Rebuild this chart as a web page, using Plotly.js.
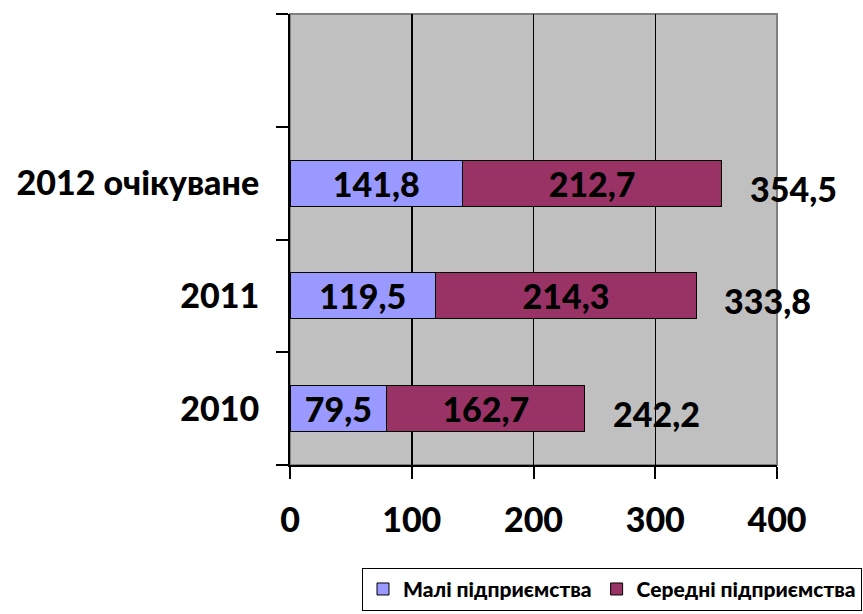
<!DOCTYPE html>
<html>
<head>
<meta charset="utf-8">
<script src="https://cdn.plot.ly/plotly-3.0.1.min.js"></script>
<style>html,body{margin:0;padding:0;background:#fff;}#chart{width:863px;height:614px;}</style>
</head>
<body>
<div id="chart"></div>
<script>
// Data
const categories = ['2010', '2011', '2012 очікуване'];
const seriesNames = ['Малі підприємства', 'Середні підприємства'];
const smallValues = [79.5, 119.5, 141.8];
const mediumValues = [162.7, 214.3, 212.7];
const xTickVals = [0, 100, 200, 300, 400];

const FONT = 'Lato, "Open Sans", "DejaVu Sans", sans-serif';
const W = 900;
const fmt = v => v.toFixed(1).replace('.', ',');
const totals = smallValues.map((v, i) => +(v + mediumValues[i]).toFixed(1));
const yPos = categories.map((c, i) => i);

const common = {
  type: 'bar', orientation: 'h', y: yPos, width: 0.41,
  textposition: 'inside', insidetextanchor: 'middle',
  textfont: {family: FONT, size: 34, color: '#000', weight: W},
  hoverinfo: 'skip', constraintext: 'none'
};
const traces = [
  Object.assign({}, common, {
    name: seriesNames[0], x: smallValues, text: smallValues.map(fmt),
    marker: {color: '#9999FF', line: {color: '#000', width: 1}}
  }),
  Object.assign({}, common, {
    name: seriesNames[1], x: mediumValues, text: mediumValues.map(fmt),
    marker: {color: '#993366', line: {color: '#000', width: 1}}
  })
];

const totalAnnotations = totals.map((t, i) => ({
  x: t, y: yPos[i], xref: 'x', yref: 'y', text: fmt(t), showarrow: false,
  xanchor: 'left', yanchor: 'middle', xshift: 26, yshift: -5,
  font: {family: FONT, size: 34, color: '#000', weight: W}
}));

const layout = {
  width: 863, height: 614,
  margin: {l: 290, r: 86, t: 14, b: 149, autoexpand: false},
  paper_bgcolor: '#fff', plot_bgcolor: '#C0C0C0',
  barmode: 'stack',
  font: {family: FONT, color: '#000'},
  showlegend: true,
  legend: {
    orientation: 'h', x: (862 - 290) / 487, y: -0.228, xanchor: 'right', yanchor: 'top',
    bordercolor: '#000', borderwidth: 1, bgcolor: '#fff',
    font: {family: FONT, size: 21, color: '#000', weight: W},
    itemwidth: 30, traceorder: 'normal'
  },
  annotations: totalAnnotations,
  xaxis: {
    range: [0, 400], tickvals: xTickVals, ticktext: xTickVals.map(String),
    ticks: 'outside', ticklen: 12, tickwidth: 2, tickcolor: '#000',
    showline: true, linecolor: '#000', linewidth: 2,
    showgrid: true, gridcolor: '#000', gridwidth: 1.5,
    zeroline: false, fixedrange: true, ticklabelstandoff: 12,
    tickfont: {family: FONT, size: 34, color: '#000', weight: W}
  },
  yaxis: {
    range: [-0.5, 3.5], tickvals: yPos, ticktext: categories,
    ticks: '', showline: true, linecolor: '#000', linewidth: 2,
    showgrid: false, zeroline: false, fixedrange: true, ticklabelstandoff: 22,
    tickfont: {family: FONT, size: 34, color: '#000', weight: W},
    minor: {tickvals: [-0.5, 0.5, 1.5, 2.5, 3.5], ticks: 'outside', ticklen: 12, tickwidth: 2, tickcolor: '#000', showgrid: false}
  },
  shapes: [
    {type: 'rect', xref: 'paper', yref: 'paper', x0: 0, x1: 1, y0: 0, y1: 1,
     line: {color: '#808080', width: 2}, layer: 'below'}
  ]
};

Plotly.newPlot('chart', traces, layout, {staticPlot: true});
</script>
</body>
</html>
